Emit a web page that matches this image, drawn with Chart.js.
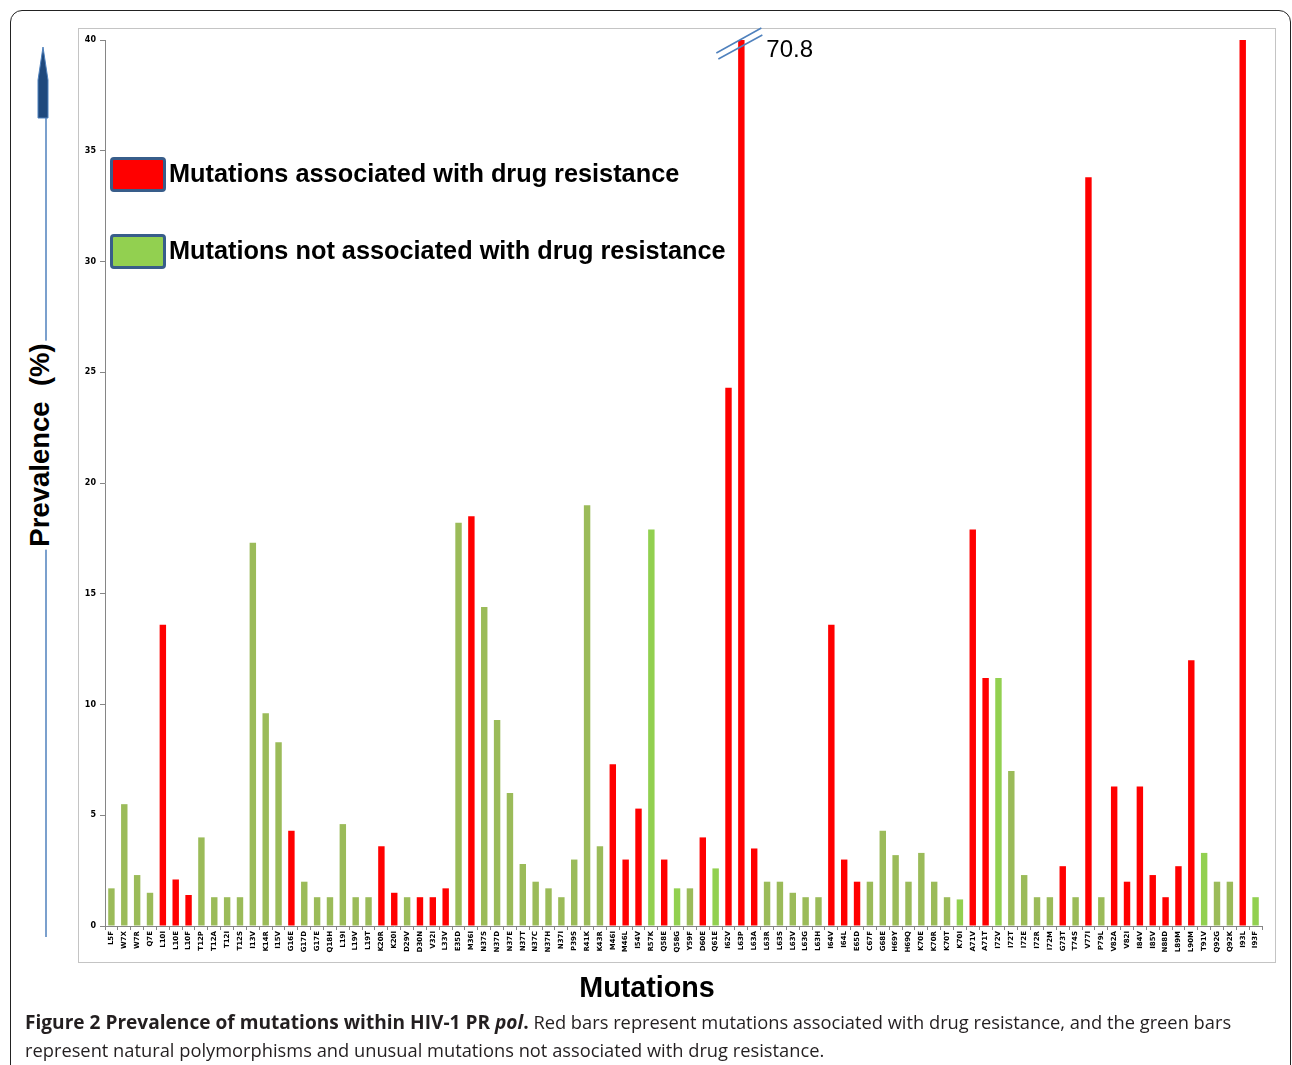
<!DOCTYPE html>
<html>
<head>
<meta charset="utf-8">
<script src="https://cdn.jsdelivr.net/npm/chart.js@4.4.1/dist/chart.umd.min.js"></script>
<style>
    html, body { margin: 0; padding: 0; background: #fff; }
    body { width: 1292px; height: 1065px; overflow: hidden; position: relative; font-family: 'Liberation Sans', Arial, sans-serif; }
    .frame { position: absolute; left: 10px; top: 10px; width: 1279px; height: 1090px; border: 1.5px solid #222; border-radius: 12px; }
    .chartBox { position: absolute; left: 78px; top: 28px; width: 1196px; height: 933px; border: 1px solid #c4c4c4; }
    #chart { position: absolute; left: 0; top: 0; }
    .legend { position: absolute; left: 110px; font-weight: bold; font-size: 25.3px; color: #000; }
    .legend .row { position: absolute; left: 0; white-space: nowrap; height: 36px; }
    .legend .box { position: absolute; left: 0; top: 0; width: 50px; height: 29px; border: 3px solid #385d8a; border-radius: 4px; }
    .legend .txt { position: absolute; left: 59px; top: 2px; }
    .ytitle { position: absolute; left: 40px; top: 445px; transform: translate(-50%, -50%) rotate(-90deg); font-weight: bold; font-size: 27.5px; white-space: nowrap; background: #fff; padding: 0 3px; }
    .xtitle { position: absolute; left: 647px; top: 987px; transform: translate(-50%, -50%); font-weight: bold; font-size: 28.7px; white-space: nowrap; }
    .caption { position: absolute; left: 25px; top: 1008px; width: 1260px; font-family: 'Open Sans', sans-serif; font-size: 18.3px; line-height: 27px; color: #231f20; }
    .caption b { font-size: 19.1px; }
    svg.arrow { position: absolute; left: 0; top: 0; }
</style>
</head>
<body>
<div class="frame"></div>
<div class="chartBox"></div>
<canvas id="chart" width="1292" height="1065"></canvas>

<svg class="arrow" width="80" height="960">
    <line x1="46" y1="110" x2="46" y2="937" stroke="#4f81bd" stroke-width="1.5"/>
    <polygon points="43,47 48,80 48,118 38,118 38,80" fill="#1f497d" stroke="#4f81bd" stroke-width="1"/>
</svg>
<div class="ytitle">Prevalence&nbsp;&nbsp;(%)</div>

<div class="legend">
    <div class="row" style="top:157px"><div class="box" style="background:#ff0000"></div><div class="txt">Mutations associated with drug resistance</div></div>
    <div class="row" style="top:234px"><div class="box" style="background:#92d050"></div><div class="txt">Mutations not associated with drug resistance</div></div>
</div>

<div class="xtitle">Mutations</div>
<div class="caption"><b>Figure 2 Prevalence of mutations within HIV-1 PR <i>pol</i>.</b> Red bars represent mutations associated with drug resistance, and the green bars<br>represent natural polymorphisms and unusual mutations not associated with drug resistance.</div>

<script>
// 変異名
const mutations = [
    'L5F', 'W7X', 'W7R', 'Q7E', 'L10I', 'L10E', 'L10F', 'T12P', 'T12A', 'T12I',
    'T12S', 'I13V', 'K14R', 'I15V', 'G16E', 'G17D', 'G17E', 'Q18H', 'L19I', 'L19V',
    'L19T', 'K20R', 'K20I', 'D29V', 'D30N', 'V32I', 'L33V', 'E35D', 'M36I', 'N37S',
    'N37D', 'N37E', 'N37T', 'N37C', 'N37H', 'N37I', 'P39S', 'R41K', 'K43R', 'M46I',
    'M46L', 'I54V', 'R57K', 'Q58E', 'Q58G', 'Y59F', 'D60E', 'Q61E', 'I62V', 'L63P',
    'L63A', 'L63R', 'L63S', 'L63V', 'L63G', 'L63H', 'I64V', 'I64L', 'E65D', 'C67F',
    'G68E', 'H69Y', 'H69Q', 'K70E', 'K70R', 'K70T', 'K70I', 'A71V', 'A71T', 'I72V',
    'I72T', 'I72E', 'I72R', 'I72M', 'G73T', 'T74S', 'V77I', 'P79L', 'V82A', 'V82I',
    'I84V', 'I85V', 'N88D', 'L89M', 'L90M', 'T91V', 'Q92G', 'Q92K', 'I93L', 'I93F'
];

// 有病率 (%)
const prevalence = [
    1.7, 5.5, 2.3, 1.5, 13.6, 2.1, 1.4, 4.0, 1.3, 1.3,
    1.3, 17.3, 9.6, 8.3, 4.3, 2.0, 1.3, 1.3, 4.6, 1.3,
    1.3, 3.6, 1.5, 1.3, 1.3, 1.3, 1.7, 18.2, 18.5, 14.4,
    9.3, 6.0, 2.8, 2.0, 1.7, 1.3, 3.0, 19.0, 3.6, 7.3,
    3.0, 5.3, 17.9, 3.0, 1.7, 1.7, 4.0, 2.6, 24.3, 70.8,
    3.5, 2.0, 2.0, 1.5, 1.3, 1.3, 13.6, 3.0, 2.0, 2.0,
    4.3, 3.2, 2.0, 3.3, 2.0, 1.3, 1.2, 17.9, 11.2, 11.2,
    7.0, 2.3, 1.3, 1.3, 2.7, 1.3, 33.8, 1.3, 6.3, 2.0,
    6.3, 2.3, 1.3, 2.7, 12.0, 3.3, 2.0, 2.0, 40.0, 1.3
];

// R = 薬剤耐性, P = 自然多型, U = 非典型
const mutationType = [
    'P', 'P', 'P', 'P', 'R', 'R', 'R', 'P', 'P', 'P',
    'P', 'P', 'P', 'P', 'R', 'P', 'P', 'P', 'P', 'P',
    'P', 'R', 'R', 'P', 'R', 'R', 'R', 'P', 'R', 'P',
    'P', 'P', 'P', 'P', 'P', 'P', 'P', 'P', 'P', 'R',
    'R', 'R', 'U', 'R', 'U', 'P', 'R', 'U', 'R', 'R',
    'R', 'P', 'P', 'P', 'P', 'P', 'R', 'R', 'R', 'P',
    'P', 'P', 'P', 'P', 'P', 'P', 'U', 'R', 'R', 'U',
    'P', 'P', 'P', 'P', 'R', 'P', 'R', 'P', 'R', 'R',
    'R', 'R', 'R', 'R', 'R', 'U', 'P', 'P', 'R', 'U'
];

const yTicks = [0, 5, 10, 15, 20, 25, 30, 35, 40];

const typeColors = { R: '#ff0000', P: '#9bbb59', U: '#92d050' };

// 軸の上限を超える最大の棒に切れ目と値を描く
const breakMarks = {
    id: 'breakMarks',
    afterDatasetsDraw(chart) {
        const { ctx, scales: { x, y } } = chart;
        const top = y.max;
        const maxVal = Math.max(...prevalence);
        if (maxVal <= top) return;
        const i = prevalence.indexOf(maxVal);
        const px = x.getPixelForValue(i);
        const py = y.getPixelForValue(top);
        ctx.save();
        ctx.strokeStyle = '#4f81bd';
        ctx.lineWidth = 1.5;
        ctx.beginPath();
        ctx.moveTo(px - 25, py + 13); ctx.lineTo(px + 20, py - 12);
        ctx.moveTo(px - 23, py + 19); ctx.lineTo(px + 21, py - 5);
        ctx.stroke();
        ctx.fillStyle = '#000';
        ctx.font = '24px "Liberation Sans", Arial, sans-serif';
        ctx.textBaseline = 'middle';
        ctx.fillText(maxVal.toFixed(1), px + 25, py + 10);
        ctx.restore();
    }
};

new Chart(document.getElementById('chart'), {
    type: 'bar',
    data: {
        labels: mutations,
        datasets: [{
            data: prevalence,
            backgroundColor: mutationType.map(t => typeColors[t]),
            borderWidth: 0,
            categoryPercentage: 1,
            barPercentage: 0.5
        }]
    },
    options: {
        responsive: false,
        devicePixelRatio: 1,
        animation: false,
        layout: { padding: { left: 0, top: 40, right: 30, bottom: 0 } },
        plugins: { legend: { display: false }, tooltip: { enabled: false } },
        scales: {
            x: {
                afterFit(scale) { scale.height = 139; },
                grid: { display: true, drawOnChartArea: false, offset: true, tickLength: 4, color: '#868686' },
                border: { color: '#868686', width: 1 },
                ticks: {
                    autoSkip: false, minRotation: 90, maxRotation: 90, padding: 1,
                    color: '#000',
                    font: { family: "'DejaVu Sans', sans-serif", size: 7, weight: 'bold' }
                }
            },
            y: {
                min: 0,
                max: 40,
                afterFit(scale) { scale.width = 105; },
                afterBuildTicks(scale) { scale.ticks = yTicks.map(v => ({ value: v })); },
                grid: { display: true, drawOnChartArea: false, tickLength: 5, color: '#868686' },
                border: { color: '#868686', width: 1 },
                ticks: {
                    padding: 4,
                    color: '#000',
                    font: { family: "'DejaVu Sans', sans-serif", size: 8, weight: 'bold' }
                }
            }
        }
    },
    plugins: [breakMarks]
});
</script>
</body>
</html>
